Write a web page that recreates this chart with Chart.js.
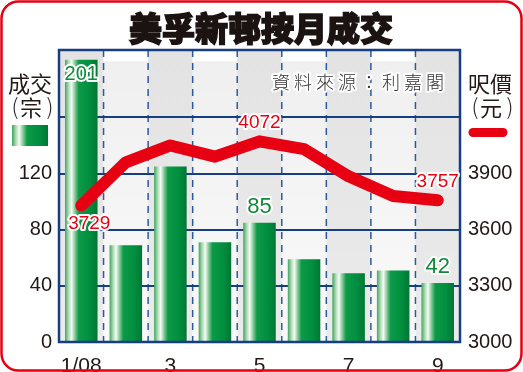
<!DOCTYPE html>
<html>
<head>
<meta charset="utf-8">
<script src="https://cdn.jsdelivr.net/npm/chart.js@4.4.1/dist/chart.umd.min.js"></script>
<style>
  html, body { margin: 0; padding: 0; background: #fff; }
  #wrap { width: 523px; height: 372px; }
</style>
</head>
<body>
<div id="wrap"><canvas id="grafico" width="523" height="372"></canvas></div>
<script>
// 美孚新邨按月成交 (2008年1月至9月)
const months = ['1/08', '2', '3', '4', '5', '6', '7', '8', '9'];
const monthTicks = ['1/08', '', '3', '', '5', '', '7', '', '9'];
const deals = [201, 69, 125, 71, 85, 59, 49, 51, 42];        // 成交(宗)
const prices = [3729, 3960, 4050, 3990, 4072, 4030, 3885, 3780, 3757]; // 呎價(元)
const dealTicks = [0, 40, 80, 120];
const priceTicks = [3000, 3300, 3600, 3900];
const labelledIdx = [0, 4, 8];

const CJK = '"Noto Sans CJK TC", "Noto Sans CJK SC", sans-serif';
const NUM = '"Liberation Sans", Arial, sans-serif';
const RED = '#e60012';
const GREEN_TXT = '#11893b';
const BLUE = '#173e80';

function barGradient(ctx, x0, x1) {
  const g = ctx.createLinearGradient(x0, 0, x1, 0);
  g.addColorStop(0, '#3fa55c');
  g.addColorStop(0.1, '#a6d7b0');
  g.addColorStop(0.2, '#f6fbf6');
  g.addColorStop(0.3, '#8ccb9b');
  g.addColorStop(0.42, '#0d9a48');
  g.addColorStop(0.75, '#008f3f');
  g.addColorStop(1, '#007634');
  return g;
}

function haloText(ctx, text, x, y, font, color, halo) {
  ctx.font = font;
  ctx.textAlign = 'center';
  ctx.textBaseline = 'middle';
  ctx.lineJoin = 'round';
  ctx.strokeStyle = '#fff';
  ctx.lineWidth = halo;
  ctx.strokeText(text, x, y);
  ctx.fillStyle = color;
  ctx.fillText(text, x, y);
}

const decor = {
  id: 'decor',
  beforeDraw(chart) {
    const { ctx, chartArea: a, scales } = chart;
    const step = a.width / months.length;
    const y200 = scales.y.getPixelForValue(200);
    ctx.save();
    ctx.fillStyle = '#fff';
    ctx.fillRect(0, 0, chart.width, chart.height);
    months.forEach((m, i) => {
      const x0 = scales.x.getPixelForValue(i) - step / 2;
      const g = ctx.createLinearGradient(0, a.top, 0, a.bottom);
      if (i % 2 === 0) {
        g.addColorStop(0, '#e3e3e3');
        g.addColorStop(1, '#ebebeb');
      } else {
        g.addColorStop(0, '#efefef');
        g.addColorStop(1, '#fafafa');
      }
      ctx.fillStyle = g;
      ctx.fillRect(x0, a.top, step, a.bottom - a.top);
      if (i % 2 === 1) {
        ctx.fillStyle = '#fff';
        ctx.fillRect(x0, a.top, step, y200 - a.top);
      }
    });
    // 虛線分隔
    ctx.strokeStyle = '#2b5a9c';
    ctx.lineWidth = 1.5;
    ctx.setLineDash([7, 6]);
    for (let i = 1; i < months.length; i++) {
      const x = scales.x.getPixelForValue(i) - step / 2;
      ctx.beginPath();
      ctx.moveTo(x, a.top);
      ctx.lineTo(x, a.bottom);
      ctx.stroke();
    }
    ctx.restore();
  },
  afterDatasetsDraw(chart) {
    const { ctx, chartArea: a } = chart;
    ctx.save();
    ctx.strokeStyle = BLUE;
    ctx.lineWidth = 2.5;
    ctx.strokeRect(a.left, a.top, a.right - a.left, a.bottom - a.top);
    ctx.restore();
  },
  afterDraw(chart) {
    const { ctx } = chart;
    const bars = chart.getDatasetMeta(0).data;
    const pts = chart.getDatasetMeta(1).data;
    ctx.save();

    // 數據標籤
    labelledIdx.forEach(i => {
      const b = bars[i];
      if (i === 0) {
        haloText(ctx, String(deals[i]), b.x, b.y + 15, '20px ' + NUM, GREEN_TXT, 4);
      } else {
        haloText(ctx, String(deals[i]), b.x, b.y - 16, '22px ' + NUM, GREEN_TXT, 4);
      }
      const p = pts[i];
      if (i === 0) {
        haloText(ctx, String(prices[i]), p.x + 8, p.y + 18, '19px ' + NUM, RED, 4);
      } else {
        haloText(ctx, String(prices[i]), p.x, p.y - 19, '19px ' + NUM, RED, 4);
      }
    });

    // 資料來源
    const src = '資料來源：利嘉閣';
    for (let k = 0; k < src.length; k++) {
      haloText(ctx, src[k], 281 + k * 22, 82, '300 18px ' + CJK, '#333', 4);
    }

    // 左圖例
    ctx.fillStyle = '#231815';
    ctx.font = '22px ' + CJK;
    ctx.textAlign = 'center';
    ctx.textBaseline = 'middle';
    ctx.fillText('成交', 30, 84);
    ctx.fillText('宗', 31, 108);
    ctx.font = '300 22px ' + CJK;
    ctx.fillText('(', 15, 107);
    ctx.fillText(')', 50, 107);
    ctx.fillStyle = barGradient(ctx, 12, 48);
    ctx.fillRect(12, 125, 36, 21);

    // 右圖例
    ctx.fillStyle = '#231815';
    ctx.font = '22px ' + CJK;
    ctx.fillText('呎價', 490, 84);
    ctx.fillText('元', 491, 108);
    ctx.font = '300 22px ' + CJK;
    ctx.fillText('(', 475, 107);
    ctx.fillText(')', 510, 107);
    ctx.strokeStyle = RED;
    ctx.lineWidth = 9;
    ctx.lineCap = 'round';
    ctx.beginPath();
    ctx.moveTo(473, 132.5);
    ctx.lineTo(503, 132.5);
    ctx.stroke();

    // 標題
    ctx.font = '900 33px ' + CJK;
    ctx.fillStyle = '#1a1311';
    ctx.strokeStyle = '#1a1311';
    ctx.lineWidth = 1.5;
    ctx.lineCap = 'butt';
    ctx.lineJoin = 'miter';
    ctx.strokeText('美孚新邨按月成交', 261, 28);
    ctx.fillText('美孚新邨按月成交', 261, 28);

    // 外框
    ctx.strokeStyle = RED;
    ctx.lineWidth = 2.5;
    ctx.beginPath();
    ctx.roundRect(1.5, 1.5, 520, 369, 17);
    ctx.stroke();
    ctx.restore();
  }
};

const chart = new Chart(document.getElementById('grafico').getContext('2d'), {
  data: {
    labels: months,
    datasets: [
      {
        type: 'bar',
        label: '成交(宗)',
        data: deals,
        yAxisID: 'y',
        order: 1,
        categoryPercentage: 1,
        barPercentage: 0.73,
        borderWidth: 0,
        backgroundColor: (c) => {
          const ch = c.chart;
          if (!ch.chartArea || c.dataIndex === undefined) return '#009944';
          const x = ch.scales.x.getPixelForValue(c.dataIndex);
          const w = ch.chartArea.width / months.length * 0.73;
          return barGradient(ch.ctx, x - w / 2, x + w / 2);
        }
      },
      {
        type: 'line',
        label: '呎價(元)',
        data: prices,
        yAxisID: 'y2',
        order: 0,
        borderColor: RED,
        borderWidth: 12,
        borderJoinStyle: 'round',
        borderCapStyle: 'round',
        pointRadius: 0,
        tension: 0
      }
    ]
  },
  options: {
    responsive: false,
    animation: false,
    devicePixelRatio: 1,
    layout: { padding: { top: 50, left: 0, right: 0, bottom: 0 } },
    plugins: { legend: { display: false }, tooltip: { enabled: false } },
    scales: {
      x: {
        grid: { display: false },
        border: { display: false },
        ticks: {
          autoSkip: false,
          maxRotation: 0,
          padding: 4,
          color: '#231815',
          font: { family: NUM, size: 21 },
          callback: (v, i) => monthTicks[i]
        },
        afterFit: (s) => { s.height = 30; }
      },
      y: {
        position: 'left',
        min: 0,
        max: 208,
        grid: { color: BLUE, lineWidth: 2, drawTicks: false },
        border: { display: false },
        ticks: {
          stepSize: 40,
          padding: 7,
          color: '#231815',
          font: { family: NUM, size: 20 },
          callback: (v) => dealTicks.includes(v) ? v : ''
        },
        afterFit: (s) => { s.width = 59; }
      },
      y2: {
        position: 'right',
        min: 3000,
        max: 4560,
        grid: { display: false, drawTicks: false },
        border: { display: false },
        ticks: {
          padding: 8,
          color: '#231815',
          font: { family: NUM, size: 20 },
          callback: (v) => String(v)
        },
        afterBuildTicks: (s) => { s.ticks = priceTicks.map(v => ({ value: v })); },
        afterFit: (s) => { s.width = 63; }
      }
    }
  },
  plugins: [decor]
});
</script>
</body>
</html>
